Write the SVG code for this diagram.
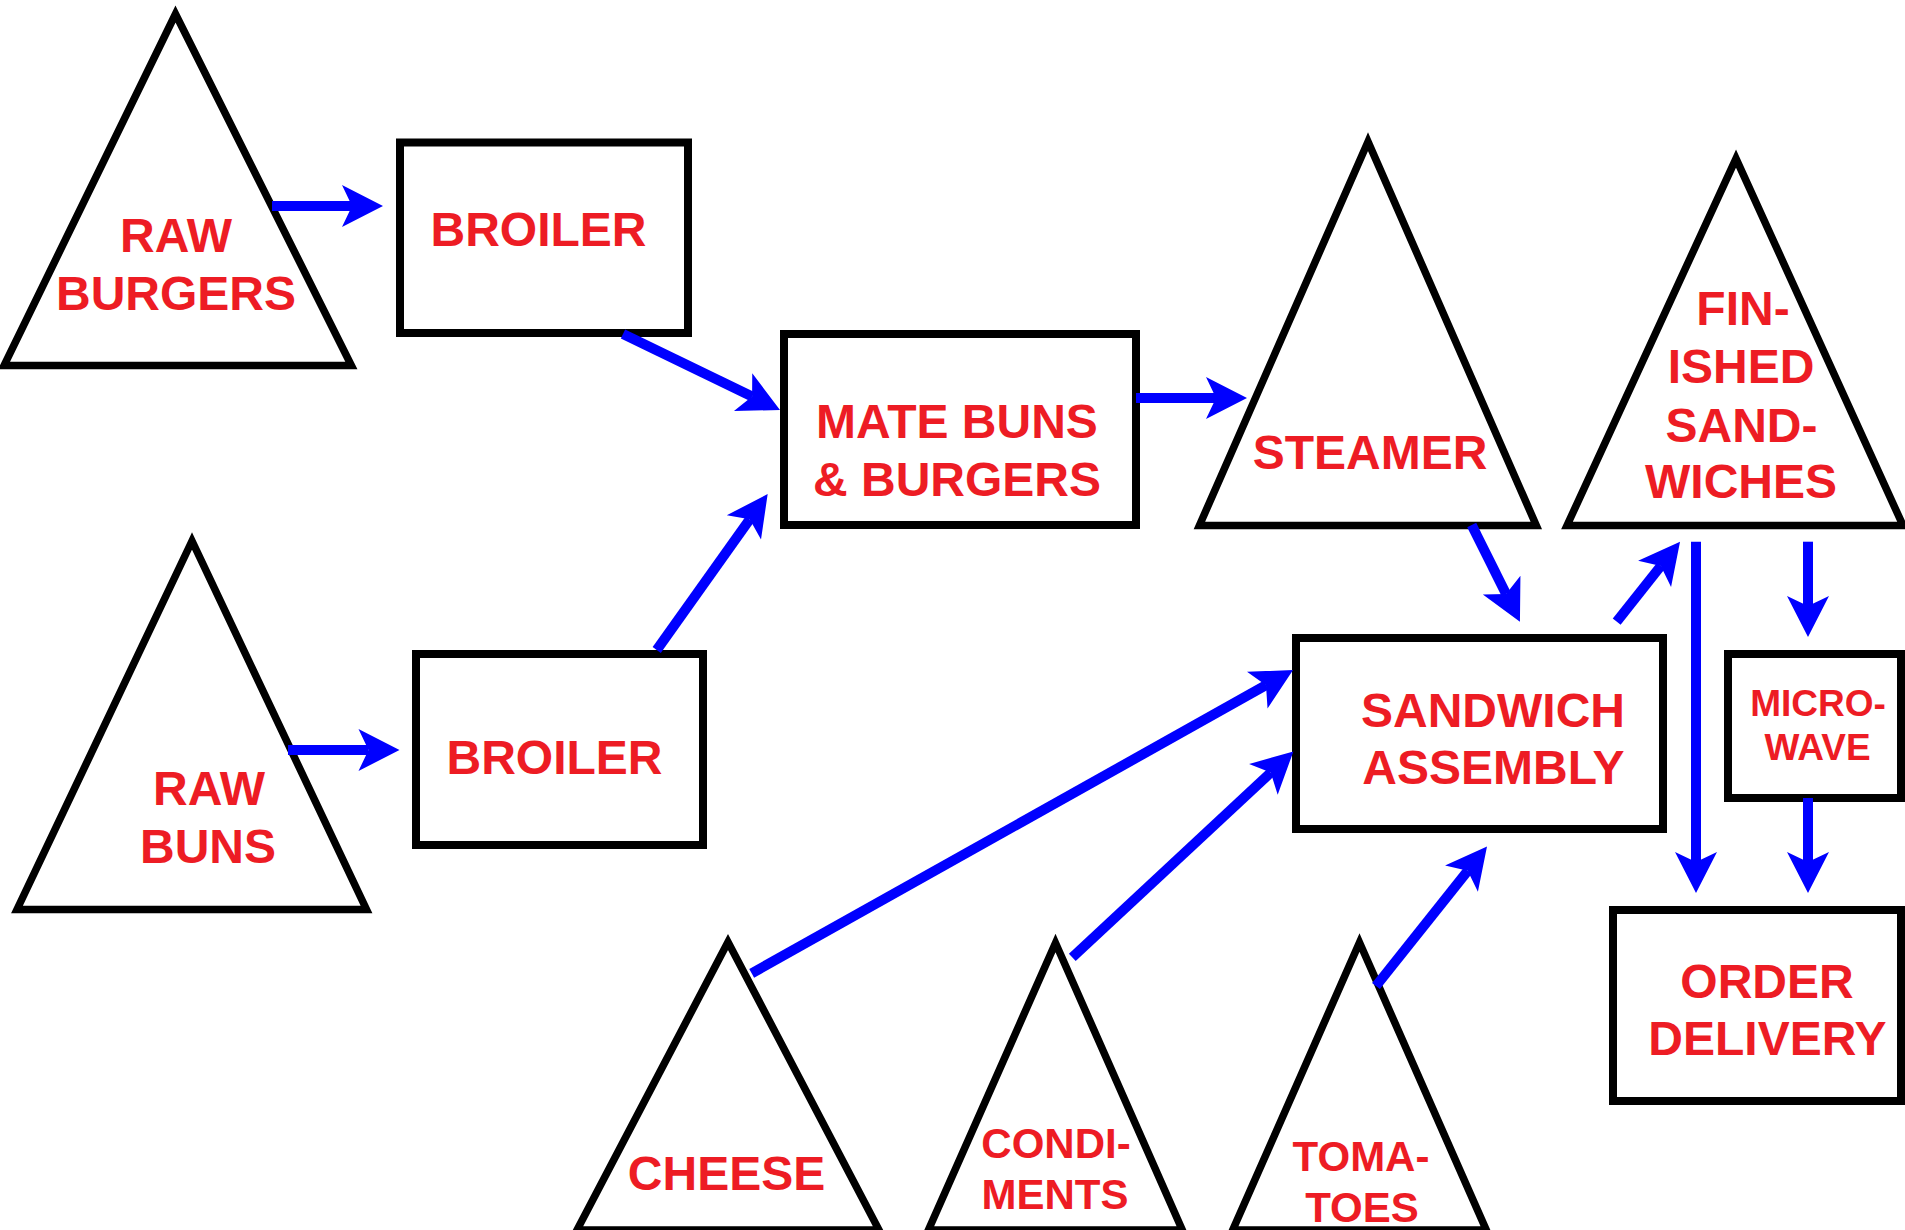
<svg xmlns="http://www.w3.org/2000/svg" width="1905" height="1230" viewBox="0 0 1905 1230">
<style>
.shape{fill:#fff;stroke:#000;stroke-width:8;stroke-linejoin:miter;stroke-miterlimit:10}
.tri{fill:#fff;stroke:#000;stroke-width:7.5;stroke-linejoin:miter;stroke-miterlimit:10}
.lbl{font-family:"Liberation Sans",Arial,sans-serif;font-weight:bold;font-size:48px;fill:#ED1C24;text-anchor:middle}
.sm{font-size:42px}
.xs{font-size:37px}
.conn{stroke:#0000FF;stroke-width:10;fill:none;stroke-linecap:butt}
</style>
<defs>
<marker id="ah" markerUnits="userSpaceOnUse" viewBox="-11 -22 43 44" markerWidth="43" markerHeight="44" refX="0" refY="0" orient="auto">
<path d="M31,0 L-10,-21 L0,0 L-10,21 Z" fill="#0000FF"/>
</marker>
</defs>
<rect width="1905" height="1230" fill="#fff"/>

<g id="raw-burgers">
<polygon class="tri" points="175.5,14 4,365.5 351.4,365.5"/>
<text class="lbl" x="176" y="252">RAW</text>
<text class="lbl" x="176" y="310">BURGERS</text>
</g>
<g id="broiler1">
<rect class="shape" x="400" y="142.5" width="288" height="190.5"/>
<text class="lbl" x="538.5" y="246">BROILER</text>
</g>
<g id="raw-buns">
<polygon class="tri" points="192,541 17,909.5 366.5,909.5"/>
<text class="lbl" x="209" y="805">RAW</text>
<text class="lbl" x="208" y="863">BUNS</text>
</g>
<g id="broiler2">
<rect class="shape" x="416" y="654" width="287" height="191"/>
<text class="lbl" x="554.5" y="774">BROILER</text>
</g>
<g id="mate">
<rect class="shape" x="784" y="334" width="352" height="191"/>
<text class="lbl" x="957" y="438">MATE BUNS</text>
<text class="lbl" x="957" y="496">&amp; BURGERS</text>
</g>
<g id="steamer">
<polygon class="tri" points="1368,141.7 1199.4,525.5 1536.3,525.5"/>
<text class="lbl" x="1370" y="469">STEAMER</text>
</g>
<g id="finished">
<polygon class="tri" points="1736,158.6 1567,525.5 1903,525.5"/>
<text class="lbl" x="1743" y="325">FIN-</text>
<text class="lbl" x="1741" y="383">ISHED</text>
<text class="lbl" x="1741.5" y="442">SAND-</text>
<text class="lbl" x="1741" y="498">WICHES</text>
</g>
<g id="sandwich-assembly">
<rect class="shape" x="1296" y="638" width="367" height="191"/>
<text class="lbl" x="1493" y="727">SANDWICH</text>
<text class="lbl" x="1493.5" y="784">ASSEMBLY</text>
</g>
<g id="microwave">
<rect class="shape" x="1728" y="654" width="173" height="144"/>
<text class="lbl xs" x="1818" y="716">MICRO-</text>
<text class="lbl xs" x="1817.5" y="760">WAVE</text>
</g>
<g id="order-delivery">
<rect class="shape" x="1613" y="910" width="288" height="191"/>
<text class="lbl" x="1767" y="998">ORDER</text>
<text class="lbl" x="1767.5" y="1055">DELIVERY</text>
</g>
<g id="cheese">
<polygon class="tri" points="728,942 577,1230 879,1230"/>
<text class="lbl" x="726.5" y="1190">CHEESE</text>
</g>
<g id="condiments">
<polygon class="tri" points="1055.5,943 928.4,1230 1182.3,1230"/>
<text class="lbl sm" x="1056" y="1158">CONDI-</text>
<text class="lbl sm" x="1055" y="1209">MENTS</text>
</g>
<g id="tomatoes">
<polygon class="tri" points="1359.5,942.6 1232.7,1230 1486.3,1230"/>
<text class="lbl sm" x="1361" y="1170.5">TOMA-</text>
<text class="lbl sm" x="1362" y="1222">TOES</text>
</g>

<g id="connectors">
<line class="conn" x1="272" y1="206" x2="352" y2="206" marker-end="url(#ah)"/>
<line class="conn" x1="288" y1="750" x2="368.5" y2="750" marker-end="url(#ah)"/>
<line class="conn" x1="623" y1="334" x2="752.1" y2="396.5" marker-end="url(#ah)"/>
<line class="conn" x1="656.7" y1="650" x2="749.7" y2="519.3" marker-end="url(#ah)"/>
<line class="conn" x1="1136" y1="398" x2="1216" y2="398" marker-end="url(#ah)"/>
<line class="conn" x1="1471.7" y1="525" x2="1506.1" y2="594" marker-end="url(#ah)"/>
<line class="conn" x1="1616.7" y1="621.7" x2="1660.8" y2="566" marker-end="url(#ah)"/>
<line class="conn" x1="1696" y1="541.7" x2="1696" y2="862" marker-end="url(#ah)"/>
<line class="conn" x1="1808" y1="541.7" x2="1808" y2="606" marker-end="url(#ah)"/>
<line class="conn" x1="1808" y1="798" x2="1808" y2="862" marker-end="url(#ah)"/>
<line class="conn" x1="751.7" y1="973.3" x2="1266" y2="685.2" marker-end="url(#ah)"/>
<line class="conn" x1="1072.3" y1="957.3" x2="1270.7" y2="772.6" marker-end="url(#ah)"/>
<line class="conn" x1="1376" y1="986" x2="1467.7" y2="870.8" marker-end="url(#ah)"/>
</g>
</svg>
